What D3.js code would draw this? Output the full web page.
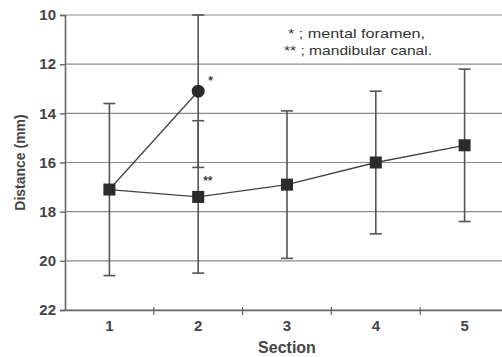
<!DOCTYPE html>
<html>
<head>
<meta charset="utf-8">
<script src="https://cdn.jsdelivr.net/npm/d3@7"></script>
<style>
  body { margin: 0; background: #fff; }
  text { font-family: "Liberation Sans", Arial, sans-serif; }
</style>
</head>
<body>
<svg id="chart"></svg>
<script>
const width = 502;
const height = 357;

// Data
const sections = [1, 2, 3, 4, 5];
const canalMean = [17.1, 17.4, 16.9, 16.0, 15.3];
const canalSD = [3.5, 3.1, 3.0, 2.9, 3.1];
const foramenSections = [1, 2];
const foramenMean = [17.1, 13.1];
const foramenSD = [null, 3.1];
const yTicks = [10, 12, 14, 16, 18, 20, 22];

const margin = {top: 15, left: 65, bottom: 47};
const plotW = 444;

var svg = d3.select("#chart")
    .attr("width", width)
    .attr("height", height);

var x = d3.scaleBand()
    .domain(sections)
    .range([margin.left, margin.left + plotW]);

var y = d3.scaleLinear()
    .domain([10, 22])
    .range([margin.top, height - margin.bottom]);

const cx = d => x(d) + x.bandwidth() / 2;

// horizontal grid lines
svg.append("g")
    .selectAll("line")
    .data(yTicks)
    .enter().append("line")
    .attr("x1", margin.left)
    .attr("x2", margin.left + plotW)
    .attr("y1", d => y(d))
    .attr("y2", d => y(d))
    .attr("stroke", "#8a8a8a")
    .attr("stroke-width", 1.2);

// left axis
const yAxis = svg.append("g")
    .attr("transform", `translate(${margin.left},0)`)
    .call(d3.axisLeft(y).tickValues(yTicks).tickSize(5).tickPadding(4));
yAxis.select(".domain").attr("stroke", "#666").attr("stroke-width", 1.6);
yAxis.selectAll(".tick line").attr("stroke", "#666").attr("stroke-width", 1.4);
yAxis.selectAll("text")
    .attr("fill", "#444")
    .style("font-size", "15px")
    .style("font-weight", "bold");

// bottom axis
const xAxis = svg.append("g")
    .attr("transform", `translate(0,${y(22)})`)
    .call(d3.axisBottom(x).tickSize(0).tickPadding(10));
xAxis.select(".domain").attr("stroke", "#666").attr("stroke-width", 1.6);
xAxis.selectAll("text")
    .attr("fill", "#444")
    .style("font-size", "15px")
    .style("font-weight", "bold");
// tick marks between the sections
xAxis.selectAll(".sep")
    .data(sections.slice(1))
    .enter().append("line")
    .attr("x1", d => x(d))
    .attr("x2", d => x(d))
    .attr("y1", -3)
    .attr("y2", 5)
    .attr("stroke", "#666")
    .attr("stroke-width", 1.2);

// error bars
function errorBars(xs, means, sds) {
    const g = svg.append("g");
    xs.forEach((s, i) => {
        if (sds[i] == null) return;
        const lo = Math.max(10, means[i] - sds[i]);
        const hi = means[i] + sds[i];
        const px = cx(s);
        g.append("line")
            .attr("x1", px).attr("x2", px)
            .attr("y1", y(lo)).attr("y2", y(hi))
            .attr("stroke", "#555").attr("stroke-width", 1.6);
        [lo, hi].forEach(v => {
            g.append("line")
                .attr("x1", px - 6).attr("x2", px + 6)
                .attr("y1", y(v)).attr("y2", y(v))
                .attr("stroke", "#555").attr("stroke-width", 1.6);
        });
    });
}
errorBars(sections, canalMean, canalSD);
errorBars(foramenSections, foramenMean, foramenSD);

var line = d3.line()
    .x(d => cx(d[0]))
    .y(d => y(d[1]));

svg.append("path")
    .datum(foramenSections.map((s, i) => [s, foramenMean[i]]))
    .attr("fill", "none")
    .attr("stroke", "#444")
    .attr("stroke-width", 1.3)
    .attr("d", line);

svg.append("path")
    .datum(sections.map((s, i) => [s, canalMean[i]]))
    .attr("fill", "none")
    .attr("stroke", "#444")
    .attr("stroke-width", 1.3)
    .attr("d", line);

// markers
svg.append("g")
    .selectAll("circle")
    .data(foramenSections.slice(1).map((s, i) => [s, foramenMean[i + 1]]))
    .enter().append("circle")
    .attr("cx", d => cx(d[0]))
    .attr("cy", d => y(d[1]))
    .attr("r", 6.5)
    .attr("fill", "#2b2b2b");

svg.append("g")
    .selectAll("rect")
    .data(sections.map((s, i) => [s, canalMean[i]]))
    .enter().append("rect")
    .attr("x", d => cx(d[0]) - 6)
    .attr("y", d => y(d[1]) - 6)
    .attr("width", 12)
    .attr("height", 12)
    .attr("fill", "#2b2b2b");

// annotations
svg.append("text")
    .attr("x", cx(2) + 10).attr("y", y(13.1) - 6)
    .attr("fill", "#444").style("font-size", "12px").style("font-weight", "bold")
    .text("*");
svg.append("text")
    .attr("x", cx(2) + 5).attr("y", y(17.4) - 12)
    .attr("fill", "#444").style("font-size", "12px").style("font-weight", "bold")
    .text("**");

// legend
svg.append("text")
    .attr("x", 288).attr("y", 38)
    .attr("fill", "#333").style("font-size", "13px")
    .attr("textLength", 137).attr("lengthAdjust", "spacingAndGlyphs")
    .text("* ; mental foramen,");
svg.append("text")
    .attr("x", 284).attr("y", 55)
    .attr("fill", "#333").style("font-size", "13px")
    .attr("textLength", 148).attr("lengthAdjust", "spacingAndGlyphs")
    .text("** ; mandibular canal.");

// axis titles
svg.append("text")
    .attr("transform", `translate(25,${(y(10) + y(22)) / 2}) rotate(-90)`)
    .attr("text-anchor", "middle")
    .attr("fill", "#444").style("font-size", "14px").style("font-weight", "bold")
    .text("Distance (mm)");
svg.append("text")
    .attr("x", cx(3)).attr("y", 353)
    .attr("text-anchor", "middle")
    .attr("fill", "#444").style("font-size", "16px").style("font-weight", "bold")
    .text("Section");
</script>
</body>
</html>
